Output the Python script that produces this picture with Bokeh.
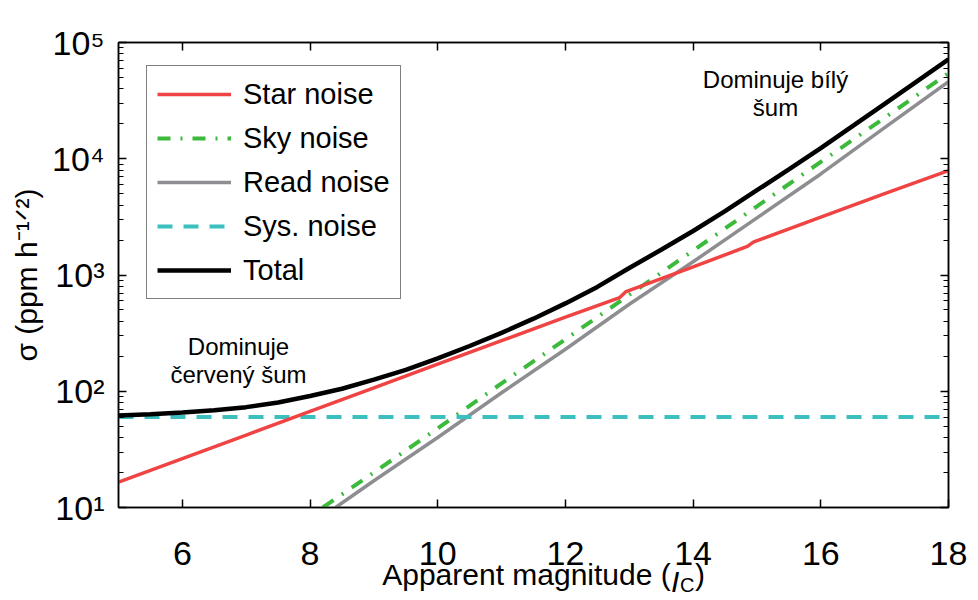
from bokeh.plotting import figure
from bokeh.models import (Range1d, FixedTicker, LogAxis, LinearAxis, Legend, LegendItem,
                          Label, CustomJSTickFormatter)
from bokeh.embed import file_html
from bokeh.resources import INLINE

# ---- data ----
mag_star = [5, 6, 7, 8, 9, 10, 11, 12, 12.85, 12.95, 14, 14.85, 14.95, 16, 17, 18]
star_noise = [16.5, 26.3, 42, 67, 107, 171, 272, 434, 640, 720, 1175, 1760, 1930, 3150, 5020, 7900]

mag_sky = [8.2, 9, 10, 11, 12, 13, 14, 15, 16, 17, 18]
sky_noise = [10, 20, 48, 117, 280, 675, 1620, 3900, 9400, 22500, 54500]

mag_read = [8.4, 9, 10, 11, 12, 13, 14, 15, 16, 17, 18]
read_noise = [10, 17, 40, 97, 230, 560, 1300, 3100, 7400, 18500, 46000]

mag_sys = [5, 18]
sys_noise = [60, 60]

mag_total = [5, 5.5, 6, 6.5, 7, 7.5, 8, 8.5, 9, 9.5, 10, 10.5, 11, 11.5, 12, 12.5,
             13, 13.5, 14, 14.5, 15, 15.5, 16, 17, 18]
total_noise = [62, 63.5, 65.5, 68.6, 73, 80, 91, 105, 126, 153, 192, 245, 318, 421, 570, 790,
               1150, 1648, 2390, 3543, 5360, 8108, 12350, 29650, 71500]

x_ticks = [6, 8, 10, 12, 14, 16, 18]
y_ticks = [10, 100, 1000, 10000, 100000]
y_tick_labels = ["10\u00b9", "10\u00b2", "10\u00b3", "10\u2074", "10\u2075"]
y_minor = [m * 10 ** k for k in range(1, 5) for m in range(2, 10)]

FONT = "Liberation Sans"

# frame in page pixels: left 118, top 42, right 948, bottom 508
FRAME_L, FRAME_R, FRAME_B = 118, 948, 508
X0, X1 = 5, 18

def px_to_mag(px):
    return round(X0 + (px - FRAME_L) * (X1 - X0) / (FRAME_R - FRAME_L), 4)

p = figure(width=978, height=600, x_range=Range1d(X0, X1), y_range=Range1d(10, 1e5),
           y_axis_type="log", output_backend="svg", toolbar_location=None,
           min_border_left=118, min_border_right=30, min_border_top=42, min_border_bottom=92)
p.grid.visible = False
p.outline_line_color = "black"
p.outline_line_width = 1.5
p.background_fill_color = "white"
p.border_fill_color = "white"

def style_axis(ax, size="34px"):
    ax.major_tick_in = 8
    ax.major_tick_out = 0
    ax.major_tick_line_width = 1.5
    ax.major_tick_line_color = "black"
    ax.minor_tick_in = 5
    ax.minor_tick_out = 0
    ax.minor_tick_line_width = 1.2
    ax.minor_tick_line_color = "black"
    ax.axis_line_color = "black"
    ax.axis_line_width = 1.5
    ax.major_label_text_font = FONT
    ax.major_label_text_color = "black"
    ax.major_label_text_font_size = size

xa = p.xaxis[0]
xa.ticker = FixedTicker(ticks=x_ticks, minor_ticks=[])
style_axis(xa)
xa.major_label_standoff = 34

ya = p.yaxis[0]
ya.ticker = FixedTicker(ticks=y_ticks, minor_ticks=y_minor)
style_axis(ya)
ya.major_label_standoff = 14
ya.major_label_overrides = {t: s for t, s in zip(y_ticks, y_tick_labels)}
ya.axis_label = "\u03c3 (ppm h\u207b\u00b9\u141f\u00b2)"
ya.axis_label_text_font = FONT
ya.axis_label_text_font_size = "30px"
ya.axis_label_text_font_style = "normal"
ya.axis_label_text_color = "black"
ya.axis_label_standoff = 6

blank = CustomJSTickFormatter(code="return ''")

top = LinearAxis(ticker=FixedTicker(ticks=x_ticks, minor_ticks=[]), formatter=blank)
style_axis(top)
top.major_label_standoff = 0
p.add_layout(top, "above")

right = LogAxis(ticker=FixedTicker(ticks=y_ticks, minor_ticks=y_minor), formatter=blank)
style_axis(right)
right.major_label_standoff = 0
p.add_layout(right, "right")

# x title "Apparent magnitude (I_C)" made of text-only axes pulled into place
def text_axis(labels, size, standoff, style="normal"):
    ticks = [px_to_mag(pos) for pos, _ in labels]
    ax = LinearAxis(ticker=FixedTicker(ticks=ticks, minor_ticks=[]))
    ax.major_label_overrides = {t: s for t, (_, s) in zip(ticks, labels)}
    ax.axis_line_color = None
    ax.major_tick_line_color = None
    ax.minor_tick_line_color = None
    ax.major_tick_in = 0
    ax.major_tick_out = 0
    ax.minor_tick_in = 0
    ax.minor_tick_out = 0
    ax.major_label_text_font = FONT
    ax.major_label_text_font_size = size
    ax.major_label_text_font_style = style
    ax.major_label_text_color = "black"
    ax.major_label_standoff = standoff
    p.add_layout(ax, "below")

text_axis([(686.7, "C")], "20px", 6)
text_axis([(526, "Apparent magnitude ("), (699.5, ")")], "30px", -41)
text_axis([(674.7, "I")], "30px", -34, style="italic")

# ---- lines ----
r_read = p.line(mag_read, read_noise, line_color="#8e8e92", line_width=3.5)
r_sky = p.line(mag_sky, sky_noise, line_color="#3cba3c", line_width=4, line_dash="13 10 2 10")
r_sys = p.line(mag_sys, sys_noise, line_color="#3bbfbf", line_width=4, line_dash="15 11")
r_star = p.line(mag_star, star_noise, line_color="#f04444", line_width=3.5)
r_total = p.line(mag_total, total_noise, line_color="black", line_width=4.5)

legend = Legend(items=[
    LegendItem(label="Star noise", renderers=[r_star]),
    LegendItem(label="Sky noise", renderers=[r_sky]),
    LegendItem(label="Read noise", renderers=[r_read]),
    LegendItem(label="Sys. noise", renderers=[r_sys]),
    LegendItem(label="Total", renderers=[r_total]),
], location=(28, 208), label_text_font=FONT, label_text_font_size="29px",
   label_text_color="black", glyph_width=74, glyph_height=36, label_height=36,
   spacing=8, padding=10, label_standoff=12, margin=0,
   border_line_color="black", border_line_width=1.5,
   background_fill_color="white", background_fill_alpha=1.0)
p.add_layout(legend)

# ---- annotations inside the frame (reference pixel positions) ----
def add_text(text, px, py, size, align="center"):
    p.add_layout(Label(x=X0, y=10, x_offset=px - FRAME_L, y_offset=FRAME_B - py, text=text,
                       text_font=FONT, text_font_size=size, text_align=align,
                       text_baseline="alphabetic", text_color="black"))

add_text("Dominuje", 238, 347, "24px")
add_text("\u010derven\u00fd \u0161um", 238, 375, "24px")
add_text("Dominuje b\u00edl\u00fd", 775, 80, "24px")
add_text("\u0161um", 775, 108, "24px")

open("out.html", "w").write(file_html(p, INLINE))
